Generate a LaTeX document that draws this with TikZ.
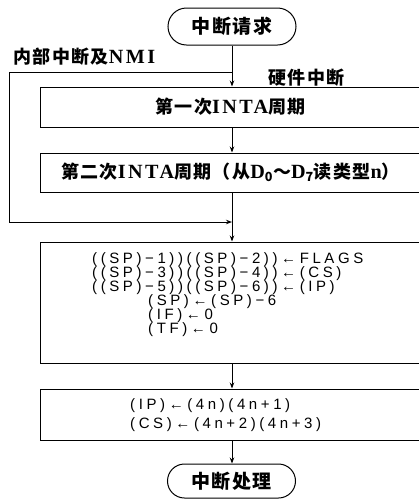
\documentclass[tikz,border=0pt]{standalone}
\usepackage{fontspec}
\usetikzlibrary{arrows.meta}
\setmainfont{Liberation Serif}
\newfontfamily\cjk{Noto Sans CJK SC}[LetterSpace=8]
\newfontfamily\formula{Liberation Sans}[LetterSpace=24]
\newfontfamily\latb{Liberation Serif}[LetterSpace=12,Scale=1.12]
\newcommand\lt[1]{{\latb\bfseries #1}}
\begin{document}
\begin{tikzpicture}[x=1pt,y=-1pt,
  ln/.style={line width=1pt},
  arr/.style={ln,-{Stealth[length=6pt,width=4.5pt]}},
  box/.style={draw,ln,inner sep=0pt,minimum width=381pt},
  term/.style={draw,ln,inner sep=0pt,minimum width=128pt,font=\cjk\bfseries\fontsize{19}{19}\selectfont},
  fl/.style={anchor=west,inner sep=0pt,font=\formula\fontsize{15}{15}\selectfont},
  zhl/.style={inner sep=0pt,font=\cjk\bfseries\fontsize{18}{18}\selectfont}]
\useasboundingbox (0,0) rectangle (419,499);
% terminals
\node[term,minimum height=37pt,rounded corners=18.5pt] (start) at (232,26.5) {中断请求};
\node[term,minimum height=34pt,rounded corners=17pt] (end) at (231.5,481) {中断处理};
% labels
\node[zhl,anchor=west] (lab1) at (13,57) {内部中断及\lt{NMI}};
\node[zhl,anchor=west] (lab2) at (268,78) {硬件中断};
% boxes
\node[box,minimum height=40pt,zhl,draw,ln] (b1) at (230.5,107) {第一次\lt{INTA}周期};
\node[box,minimum height=39pt,zhl,draw,ln] (b2) at (230.5,172.5) {第二次\lt{INTA}周期（从\lt{D}\textsubscript{\bfseries 0}～\lt{D}\textsubscript{\bfseries 7}读类型\lt{n}）};
\node[box,minimum height=121pt] (b3) at (230.5,302.5) {};
\node[box,minimum height=51pt] (b4) at (230.5,414.5) {};
% formulas
\node[fl] (f1) at (92,260) {((SP)−1))((SP)−2))←FLAGS};
\node[fl] (f2) at (92,274) {((SP)−3))((SP)−4))←(CS)};
\node[fl] (f3) at (92,288) {((SP)−5))((SP)−6))←(IP)};
\node[fl] (f4) at (148,302) {(SP)←(SP)−6};
\node[fl] (f5) at (148,316) {(IF)←0};
\node[fl] (f6) at (148,330) {(TF)←0};
\node[fl] (g1) at (130,406) {(IP)←(4n)(4n+1)};
\node[fl] (g2) at (130,425) {(CS)←(4n+2)(4n+3)};
% connectors
\coordinate (j1) at (232,72);
\coordinate (c1) at (9,72);
\coordinate (c2) at (9,222);
\coordinate (j2) at (232,222);
\draw[arr] (start.south) -- (start.south |- b1.north);
\draw[arr] (j1 |- b1.south) -- (j1 |- b2.north);
\draw[arr] (j1 |- b2.south) -- (j1 |- b3.north);
\draw[arr] (j1) -- (c1) -- (c2) -- (j2);
\draw[arr] (j1 |- b3.south) -- (j1 |- b4.north);
\draw[arr] (j1 |- b4.south) -- (j1 |- end.north);
\end{tikzpicture}
\end{document}
